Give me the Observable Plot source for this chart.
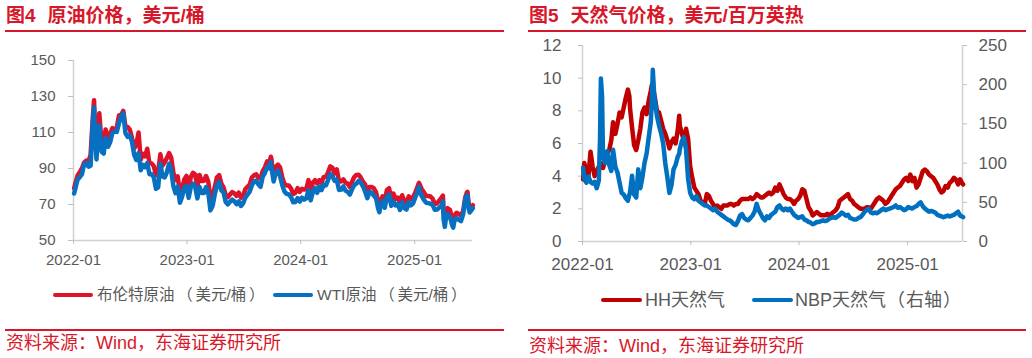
<!DOCTYPE html>
<html><head><meta charset="utf-8">
<script src="https://cdn.jsdelivr.net/npm/d3@7"></script>
<script src="https://cdn.jsdelivr.net/npm/@observablehq/plot@0.6"></script>
<style>
body{margin:0;background:#fff;}
#wrap{position:relative;width:1032px;height:358px;overflow:hidden;font-family:"Liberation Sans",Arial,"Noto Sans CJK SC",sans-serif;}
.abs{position:absolute;white-space:nowrap;}
.title{font-size:19px;font-weight:bold;color:#d7182a;line-height:22px;}
.rule{height:2px;background:#d7182a;}
.src{font-size:18px;color:#d7182a;line-height:20px;}
.sw{height:4px;border-radius:2px;}
.lg{color:#595959;line-height:22px;}
.p{display:inline-block;text-align:center;}
</style></head><body><div id="wrap"></div>
<script>
// ---------- Crude oil (USD/bbl) ----------
const oilDates = [
"2022-01-03","2022-01-07","2022-01-14","2022-01-21","2022-01-28","2022-02-04","2022-02-11","2022-02-18","2022-02-25","2022-03-04","2022-03-08","2022-03-11","2022-03-16","2022-03-18","2022-03-25","2022-04-01","2022-04-08","2022-04-14","2022-04-22","2022-04-29","2022-05-06","2022-05-13","2022-05-20","2022-05-27","2022-06-03","2022-06-10","2022-06-17","2022-06-24","2022-07-01","2022-07-08","2022-07-15","2022-07-22","2022-07-29","2022-08-05","2022-08-12","2022-08-19","2022-08-26","2022-09-02","2022-09-09","2022-09-16","2022-09-23","2022-09-30","2022-10-07","2022-10-14","2022-10-21","2022-10-28","2022-11-04","2022-11-11","2022-11-18","2022-11-25","2022-12-02","2022-12-09","2022-12-16","2022-12-23","2022-12-30",
"2023-01-06","2023-01-13","2023-01-20","2023-01-27","2023-02-03","2023-02-10","2023-02-17","2023-02-24","2023-03-03","2023-03-10","2023-03-17","2023-03-24","2023-03-31","2023-04-07","2023-04-14","2023-04-21","2023-04-28","2023-05-05","2023-05-12","2023-05-19","2023-05-26","2023-06-02","2023-06-09","2023-06-16","2023-06-23","2023-06-30","2023-07-07","2023-07-14","2023-07-21","2023-07-28","2023-08-04","2023-08-11","2023-08-18","2023-08-25","2023-09-01","2023-09-08","2023-09-15","2023-09-22","2023-09-27","2023-09-29","2023-10-06","2023-10-13","2023-10-20","2023-10-27","2023-11-03","2023-11-10","2023-11-17","2023-11-24","2023-12-01","2023-12-08","2023-12-15","2023-12-22","2023-12-29",
"2024-01-05","2024-01-12","2024-01-19","2024-01-26","2024-02-02","2024-02-09","2024-02-16","2024-02-23","2024-03-01","2024-03-08","2024-03-15","2024-03-22","2024-03-28","2024-04-05","2024-04-12","2024-04-19","2024-04-26","2024-05-03","2024-05-10","2024-05-17","2024-05-24","2024-05-31","2024-06-07","2024-06-14","2024-06-21","2024-06-28","2024-07-05","2024-07-12","2024-07-19","2024-07-26","2024-08-02","2024-08-09","2024-08-16","2024-08-23","2024-08-30","2024-09-06","2024-09-10","2024-09-13","2024-09-20","2024-09-27","2024-10-04","2024-10-11","2024-10-18","2024-10-25","2024-11-01","2024-11-08","2024-11-15","2024-11-22","2024-11-29","2024-12-06","2024-12-13","2024-12-20","2024-12-27",
"2025-01-03","2025-01-10","2025-01-15","2025-01-17","2025-01-24","2025-01-31","2025-02-07","2025-02-14","2025-02-21","2025-02-28","2025-03-07","2025-03-14","2025-03-21","2025-03-28","2025-04-02","2025-04-04","2025-04-08","2025-04-11","2025-04-17","2025-04-25","2025-05-02","2025-05-05","2025-05-09","2025-05-16","2025-05-23","2025-05-30","2025-06-06","2025-06-13","2025-06-18","2025-06-20","2025-06-23","2025-06-27","2025-07-03","2025-07-07"
];
const brent = [
78.98,81.75,86.06,87.89,90.03,93.27,94.44,93.54,97.93,118.11,127.98,112.67,98.02,107.93,120.65,104.39,102.78,111.70,106.65,109.34,112.39,111.55,112.55,119.43,119.72,122.01,113.12,113.12,111.63,107.02,101.16,103.20,110.01,94.92,98.15,96.72,100.99,93.02,92.84,91.35,86.15,87.96,97.92,91.63,93.50,95.77,98.57,95.99,87.62,83.63,85.57,76.10,79.04,83.92,85.91,
78.57,85.28,87.63,86.66,79.94,86.39,83.00,83.16,85.83,82.78,72.97,74.99,79.77,85.12,86.31,81.66,79.54,75.30,74.17,75.58,76.95,76.13,74.79,76.61,73.85,74.90,78.47,79.87,81.07,84.99,86.24,86.81,84.80,84.48,88.55,90.65,93.93,93.27,96.55,95.31,84.58,90.89,92.16,90.48,84.89,81.43,80.61,80.58,78.88,75.84,76.55,79.07,77.04,
78.76,78.29,78.56,83.55,77.33,82.19,83.47,81.62,83.55,82.08,85.34,85.43,87.48,91.17,90.45,87.29,89.50,82.96,82.79,83.98,82.12,81.62,79.62,82.62,85.24,86.41,86.54,85.03,82.63,81.13,76.81,79.66,79.68,79.02,76.93,71.06,69.19,71.61,74.49,71.98,78.05,79.04,73.06,76.05,73.10,73.87,71.04,75.17,71.84,71.12,74.49,72.94,74.17,
76.51,79.76,82.03,81.29,78.50,76.76,74.66,74.74,74.43,73.18,70.36,70.58,72.16,73.63,74.95,65.58,62.82,64.76,67.96,66.87,61.29,60.23,63.91,65.41,64.78,63.90,66.47,74.23,76.70,77.01,71.48,67.77,68.80,69.58
];
const wti = [
76.08,78.90,83.82,85.14,86.82,92.31,93.10,91.07,91.59,115.68,123.70,109.33,95.04,104.70,113.90,99.27,98.26,106.95,102.07,104.69,109.77,110.49,110.28,115.07,118.87,120.67,109.56,107.62,108.43,104.79,97.59,94.70,98.62,89.01,92.09,90.77,93.06,86.87,86.79,85.11,78.74,79.49,92.64,85.61,85.05,87.90,92.61,88.96,80.08,76.28,79.98,71.02,74.29,79.56,80.26,
73.77,79.86,81.64,79.68,73.39,79.72,76.34,76.32,79.68,76.68,66.74,69.26,75.67,80.70,82.52,77.87,76.78,71.34,70.04,71.55,72.67,71.74,70.17,71.78,69.16,70.64,73.86,75.42,77.07,80.58,82.82,83.19,81.25,79.83,85.55,87.51,90.77,90.03,93.68,90.79,82.79,87.69,88.75,85.54,80.51,77.17,75.89,75.54,74.07,71.23,71.43,73.56,71.65,
73.81,72.68,73.41,78.01,72.28,76.84,79.19,76.49,79.97,78.01,81.04,80.63,83.17,86.91,85.66,83.14,83.85,78.11,78.26,80.06,77.72,77.00,75.53,78.45,80.73,81.54,83.16,82.21,80.13,77.16,73.52,76.84,76.65,74.83,73.55,67.67,65.75,68.65,71.92,68.18,74.38,75.56,69.22,71.78,69.49,70.38,67.02,71.24,68.00,67.20,71.29,69.46,70.60,
73.96,76.57,80.04,77.88,74.66,72.53,71.00,70.74,70.40,69.76,67.04,67.18,68.28,69.36,71.71,61.99,57.58,61.50,64.68,63.02,58.29,57.13,61.02,62.49,61.53,60.79,64.58,72.98,75.14,74.93,68.51,65.52,67.00,68.00
];
const oilTicks = [50,70,90,110,130,150];

// ---------- Natural gas ----------
const gasDates = [
"2022-01-03","2022-01-07","2022-01-14","2022-01-21","2022-01-28","2022-02-04","2022-02-11","2022-02-18","2022-02-25","2022-03-01","2022-03-04","2022-03-08","2022-03-11","2022-03-18","2022-03-25","2022-04-01","2022-04-08","2022-04-14","2022-04-22","2022-04-29","2022-05-06","2022-05-13","2022-05-20","2022-05-27","2022-06-03","2022-06-08","2022-06-10","2022-06-17","2022-06-24","2022-07-01","2022-07-08","2022-07-15","2022-07-22","2022-07-29","2022-08-05","2022-08-12","2022-08-19","2022-08-23","2022-08-26","2022-08-31","2022-09-02","2022-09-09","2022-09-16","2022-09-23","2022-09-30","2022-10-07","2022-10-14","2022-10-21","2022-10-28","2022-11-04","2022-11-11","2022-11-18","2022-11-23","2022-11-25","2022-12-02","2022-12-09","2022-12-16","2022-12-23","2022-12-30",
"2023-01-06","2023-01-13","2023-01-20","2023-01-27","2023-02-03","2023-02-10","2023-02-17","2023-02-24","2023-03-03","2023-03-10","2023-03-17","2023-03-24","2023-03-31","2023-04-07","2023-04-14","2023-04-21","2023-04-28","2023-05-05","2023-05-12","2023-05-19","2023-05-26","2023-06-02","2023-06-09","2023-06-16","2023-06-23","2023-06-30","2023-07-07","2023-07-14","2023-07-21","2023-07-28","2023-08-04","2023-08-11","2023-08-18","2023-08-25","2023-09-01","2023-09-08","2023-09-15","2023-09-22","2023-09-29","2023-10-06","2023-10-13","2023-10-20","2023-10-27","2023-11-03","2023-11-10","2023-11-17","2023-11-24","2023-12-01","2023-12-08","2023-12-15","2023-12-22","2023-12-29",
"2024-01-05","2024-01-12","2024-01-19","2024-01-26","2024-02-02","2024-02-09","2024-02-16","2024-02-23","2024-03-01","2024-03-08","2024-03-15","2024-03-22","2024-03-29","2024-04-05","2024-04-12","2024-04-19","2024-04-26","2024-05-03","2024-05-10","2024-05-17","2024-05-24","2024-05-31","2024-06-07","2024-06-14","2024-06-21","2024-06-28","2024-07-05","2024-07-12","2024-07-19","2024-07-26","2024-08-02","2024-08-09","2024-08-16","2024-08-23","2024-08-30","2024-09-06","2024-09-13","2024-09-20","2024-09-27","2024-10-04","2024-10-11","2024-10-18","2024-10-25","2024-11-01","2024-11-08","2024-11-15","2024-11-22","2024-11-29","2024-12-06","2024-12-13","2024-12-20","2024-12-27",
"2025-01-03","2025-01-10","2025-01-17","2025-01-24","2025-01-31","2025-02-07","2025-02-14","2025-02-21","2025-02-28","2025-03-07","2025-03-14","2025-03-21","2025-03-28","2025-04-04","2025-04-11","2025-04-18","2025-04-25","2025-05-02","2025-05-09","2025-05-16","2025-05-23","2025-05-30","2025-06-06","2025-06-13","2025-06-20","2025-06-27","2025-07-03","2025-07-07"
];
const hh = [
3.8,4.8,4.3,4.0,5.5, 4.6,4.0,4.3,4.6, 4.5,4.8,4.6,4.5,4.9,5.4, 5.6,6.2,7.3,6.6,7.2, 7.9,7.6,8.2,8.8, 9.3,8.9,8.2,7.0,5.9, 5.6,6.2,6.9,7.9,8.2, 7.8,8.6,9.2,9.6,9.4,9.0, 8.8,8.0,7.9,7.4,6.9, 6.6,6.2,5.7,6.1, 6.3,6.0,6.8,7.7,7.1, 6.6,6.2,6.9,6.3,4.6,
3.9,3.3,3.1,2.9,2.5,2.4,2.3,2.9,2.8,2.5,2.3,2.1,2.2,2.1,2.0,2.2,2.2,2.2,2.3,2.3,2.2,2.3,2.3,2.5,2.6,2.6,2.6,2.6,2.7,2.6,2.7,2.9,2.8,2.7,2.7,2.8,2.9,3.0,2.9,3.0,3.3,3.1,3.5,3.2,2.9,2.7,2.6,2.6,2.5,2.3,2.5,2.6,
2.8,3.2,3.1,2.6,2.1,1.9,1.6,1.7,1.8,1.7,1.6,1.6,1.6,1.7,1.6,1.7,1.8,1.9,2.1,2.5,2.6,2.7,2.8,2.9,2.6,2.5,2.3,2.2,2.1,2.0,2.0,2.0,2.1,2.1,2.0,2.2,2.4,2.6,2.7,2.6,2.5,2.3,2.4,2.6,2.8,3.0,3.2,3.3,3.4,3.6,3.8,3.9,
3.7,4.1,3.7,3.9,3.3,3.5,3.9,4.3,4.4,4.3,4.1,4.0,3.9,3.7,3.5,3.2,3.0,3.1,3.4,3.3,3.6,3.7,3.9,3.8,3.5,3.8,3.6,3.5
];
const nbp = [
94,80,75,83,76, 74,76,68,78, 130,208,185,110,100,115, 98,90,117,95,88, 75,62,60,55, 52,60,62,84,60, 56,92,68,82,100, 112,132,152,178,219,185, 180,160,148,138,125, 100,82,62,72, 92,98,108,112,118, 128,133,118,80,62,
56,54,58,52,50,48,46,46,44,42,40,42,38,36,34,32,30,28,27,25,22,21,26,33,35,30,28,27,30,33,38,48,40,35,30,27,32,30,34,36,38,44,46,42,40,42,40,42,38,34,32,30,
31,32,28,27,25,24,22,23,25,25,26,27,26,27,29,30,31,30,32,34,37,35,33,34,30,29,28,28,30,31,34,38,40,42,37,36,37,36,38,40,42,40,41,42,43,44,46,43,44,42,40,41,
44,43,42,44,45,48,50,45,42,40,38,39,38,37,34,33,32,31,32,33,32,33,34,36,38,33,32,31
];
const hhTicks = [0,2,4,6,8,10,12];
const nbpTicks = [0,50,100,150,200,250];

const yearTicks = ["2022-01-01","2023-01-01","2024-01-01","2025-01-01"];

// ---------- build ----------
const BRENT = "#de1229", WTI = "#0870c0", HH = "#c00000", NBP = "#0070c0";
const AXIS = "#d0d0d0", TICK = "#bfbfbf", LABEL = "#595959";
const yt = yearTicks.map(d => new Date(d));
const oilData = oilDates.map((d, i) => ({date: new Date(d), brent: brent[i], wti: wti[i]}));
const gasData = gasDates.map((d, i) => ({date: new Date(d), hh: hh[i], nbp: nbp[i]}));
const xOil = [new Date("2022-01-01"), new Date("2025-07-06")];
const xGas = [new Date("2022-01-01"), new Date("2025-07-05")];
const ratio = hhTicks[hhTicks.length-1] / nbpTicks[nbpTicks.length-1];
const fmt = d3.utcFormat("%Y-%m");

const oilPlot = Plot.plot({
  width: 516, height: 240, marginLeft: 73, marginRight: 44, marginTop: 20, marginBottom: 40,
  style: {fontFamily: "Liberation Sans, Arial, sans-serif", fontSize: "15px", background: "transparent", overflow: "visible"},
  x: {type: "utc", domain: xOil, label: null},
  y: {domain: [oilTicks[0], oilTicks[oilTicks.length-1]], label: null},
  marks: [
    Plot.ruleX([xOil[0]], {stroke: AXIS, strokeWidth: 1.5}),
    Plot.ruleY([oilTicks[0]], {stroke: AXIS, strokeWidth: 1.5}),
    Plot.axisY({ticks: oilTicks, tickSize: 5, tickPadding: 13, stroke: TICK, fill: LABEL, label: null}),
    Plot.axisX({ticks: yt, tickFormat: fmt, tickSize: 4, tickPadding: 10, stroke: TICK, fill: LABEL, label: null}),
    Plot.line(oilData, {x: "date", y: "brent", stroke: BRENT, strokeWidth: 4.5}),
    Plot.line(oilData, {x: "date", y: "wti", stroke: WTI, strokeWidth: 4.5})
  ]
});

const gasPlot = Plot.plot({
  width: 516, height: 245, marginLeft: 66, marginRight: 70, marginTop: 10, marginBottom: 39,
  style: {fontFamily: "Liberation Sans, Arial, sans-serif", fontSize: "17px", background: "transparent", overflow: "visible"},
  x: {type: "utc", domain: xGas, label: null},
  y: {domain: [hhTicks[0], hhTicks[hhTicks.length-1]], label: null},
  marks: [
    Plot.ruleX(xGas, {stroke: AXIS, strokeWidth: 1.5}),
    Plot.ruleY([hhTicks[0]], {stroke: AXIS, strokeWidth: 1.5}),
    Plot.axisY({ticks: hhTicks, tickSize: 4, tickPadding: 17, stroke: TICK, fill: LABEL, label: null}),
    Plot.axisY({anchor: "right", ticks: nbpTicks.map(v => v * ratio), tickFormat: d => Math.round(d / ratio), tickSize: 4, tickPadding: 12, stroke: TICK, fill: LABEL, label: null}),
    Plot.axisX({ticks: yt, tickFormat: fmt, tickSize: 4, tickPadding: 12, stroke: TICK, fill: LABEL, label: null}),
    Plot.line(gasData, {x: "date", y: "hh", stroke: HH, strokeWidth: 4.5}),
    Plot.line(gasData, {x: "date", y: d => d.nbp * ratio, stroke: NBP, strokeWidth: 4.5})
  ]
});

const wrap = document.getElementById("wrap");
function add(html, style, cls) {
  const el = document.createElement("div");
  el.className = "abs " + (cls || "");
  el.setAttribute("style", style);
  el.innerHTML = html;
  wrap.appendChild(el);
  return el;
}
const paren = (ch, w) => `<span class="p" style="width:${w}px">${ch}</span>`;
// left panel
add('图4<span style="margin-left:12px">原油价格，美元/桶</span>', "left:6px;top:5px;", "title");
add("", "left:5px;top:30px;width:499px;", "rule");
const o = add("", "left:0px;top:40px;width:516px;height:240px;"); o.appendChild(oilPlot);
add("", `left:53px;top:293px;width:40px;background:${BRENT};`, "sw");
add(`布伦特原油${paren("（",21)}美元/桶${paren("）",21)}`, "left:97px;top:284px;font-size:15.5px;", "lg");
add("", `left:273px;top:293px;width:40px;background:${WTI};`, "sw");
add(`WTI原油${paren("（",21)}美元/桶${paren("）",21)}`, "left:317px;top:284px;font-size:15.5px;", "lg");
add("", "left:5px;top:329px;width:499px;", "rule");
add("资料来源：Wind，东海证券研究所", "left:6px;top:333px;", "src");
// right panel
add('图5<span style="margin-left:12px">天然气价格，美元/百万英热</span>', "left:529px;top:5px;", "title");
add("", "left:528px;top:30px;width:498px;", "rule");
const g = add("", "left:516px;top:35px;width:516px;height:245px;"); g.appendChild(gasPlot);
add("", `left:601px;top:298px;width:41px;background:${HH};`, "sw");
add("HH天然气", "left:645px;top:289px;font-size:18px;", "lg");
add("", `left:752px;top:298px;width:41px;background:${NBP};`, "sw");
add(`NBP天然气${paren("（",20)}右轴${paren("）",20)}`, "left:795px;top:289px;font-size:18px;", "lg");
add("", "left:528px;top:329px;width:498px;", "rule");
add("资料来源：Wind，东海证券研究所", "left:529px;top:336px;", "src");
</script></body></html>
